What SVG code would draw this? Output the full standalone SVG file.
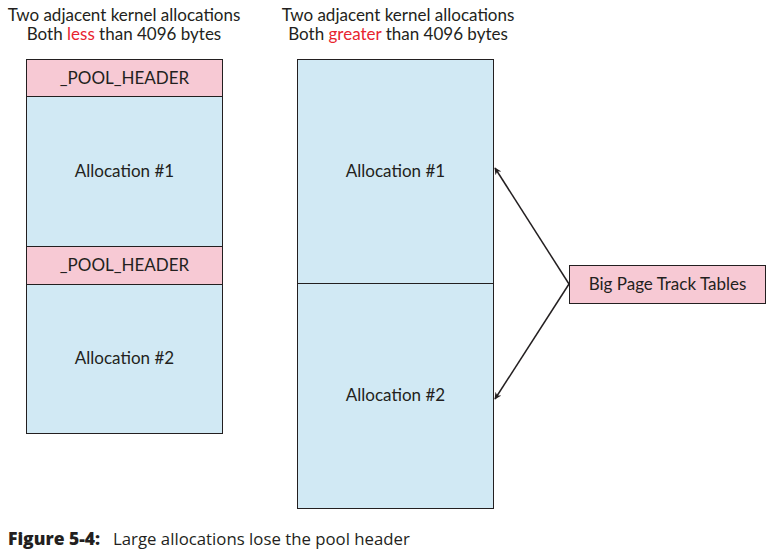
<svg xmlns="http://www.w3.org/2000/svg" width="781" height="555" viewBox="0 0 781 555">
<style>
text{font-family:Lato,"Open Sans","Liberation Sans",sans-serif;fill:#231f20;font-size:17px}
.t{text-anchor:middle}
.red{fill:#e8242f}
.pink{fill:#f7c9d4;stroke:#231f20;stroke-width:1}
.blue{fill:#d1e9f4;stroke:#231f20;stroke-width:1}
.c{stroke:#231f20;stroke-width:1.5;fill:none;marker-end:url(#ah)}
.cap{font-family:"Open Sans","Liberation Sans",sans-serif;font-size:17.5px}
</style>
<defs>
<marker id="ah" viewBox="0 0 10 10" refX="9" refY="5" markerWidth="7" markerHeight="7" orient="auto" markerUnits="userSpaceOnUse">
<path d="M0,0 L10,5 L0,10 L3,5 z" fill="#231f20"/>
</marker>
</defs>
<rect width="781" height="555" fill="#fff"/>
<g id="title-left">
<text class="t" x="124" y="21">Two adjacent kernel allocations</text>
<text class="t" x="124" y="40">Both <tspan class="red">less</tspan> than 4096 bytes</text>
</g>
<g id="title-right">
<text class="t" x="398" y="21">Two adjacent kernel allocations</text>
<text class="t" x="398" y="40">Both <tspan class="red">greater</tspan> than 4096 bytes</text>
</g>
<g id="pool-header-1">
<rect class="pink" x="26.5" y="59.5" width="196" height="37"/>
<text class="t" x="124.5" y="84">_POOL_HEADER</text>
</g>
<g id="left-alloc-1">
<rect class="blue" x="26.5" y="96.5" width="196" height="150"/>
<text class="t" x="124.5" y="177">Allocation #1</text>
</g>
<g id="pool-header-2">
<rect class="pink" x="26.5" y="246.5" width="196" height="38"/>
<text class="t" x="124.5" y="271">_POOL_HEADER</text>
</g>
<g id="left-alloc-2">
<rect class="blue" x="26.5" y="284.5" width="196" height="149"/>
<text class="t" x="124.5" y="364">Allocation #2</text>
</g>
<g id="right-alloc-1">
<rect class="blue" x="297.5" y="59.5" width="196" height="224"/>
<text class="t" x="395.5" y="177">Allocation #1</text>
</g>
<g id="right-alloc-2">
<rect class="blue" x="297.5" y="283.5" width="196" height="225"/>
<text class="t" x="395.5" y="401">Allocation #2</text>
</g>
<g id="big-page">
<rect class="pink" x="569.5" y="265.5" width="196" height="38"/>
<text class="t" x="667.5" y="290">Big Page Track Tables</text>
</g>
<g id="connectors">
<line class="c" x1="569" y1="284" x2="495" y2="168"/>
<line class="c" x1="569" y1="284" x2="495" y2="399"/>
</g>
<g id="caption">
<text class="cap" x="8" y="545"><tspan font-weight="800">Figure 5-4:</tspan><tspan x="113" font-size="16.8px">Large allocations lose the pool header</tspan></text>
</g>
</svg>
